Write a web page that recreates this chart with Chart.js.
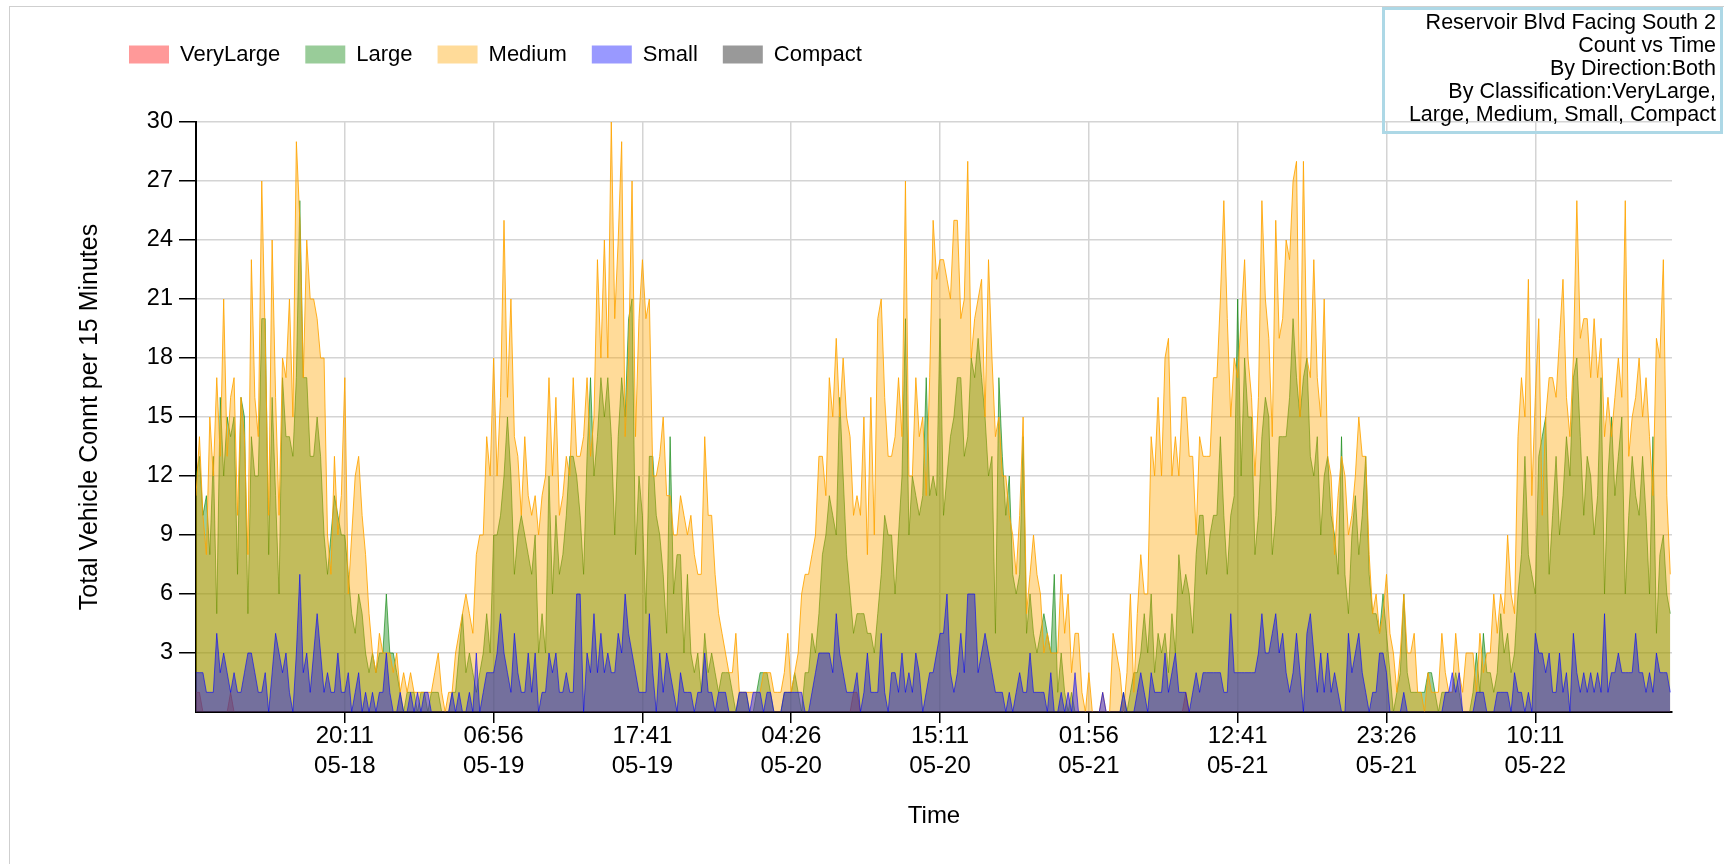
<!DOCTYPE html>
<html>
<head>
<meta charset="utf-8">
<title>Reservoir Blvd Facing South 2 - Count vs Time</title>
<script src="https://cdn.jsdelivr.net/npm/chart.js@4.4.1/dist/chart.umd.min.js"></script>
<style>
  html, body { margin: 0; padding: 0; background: #fff; }
  #wrap { position: relative; width: 1724px; height: 864px; overflow: hidden; }
  #frame { position: absolute; left: 9px; top: 6px; right: -2px; bottom: -2px;
           border-top: 1px solid #cfcfcf; border-left: 1px solid #cfcfcf; }
  #count-chart { position: absolute; left: 0; top: 0; }
</style>
</head>
<body>
<div id="wrap">
  <div id="frame"></div>
  <canvas id="count-chart" width="1724" height="864"></canvas>
</div>
<script>
// ----------------------------
// Data (15 minute bins, first bin 05-18 09:26)
// ----------------------------
const startStamp = ['05-18', '09:26'];
const binMinutes = 15;

const classNames = ['VeryLarge', 'Large', 'Medium', 'Small', 'Compact'];

const tickTimes = ['20:11', '06:56', '17:41', '04:26', '15:11', '01:56', '12:41', '23:26', '10:11'];
const tickDates = ['05-18', '05-19', '05-19', '05-20', '05-20', '05-21', '05-21', '05-21', '05-22'];

const titleLines = [
  'Reservoir Blvd Facing South 2',
  'Count vs Time',
  'By Direction:Both',
  'By Classification:VeryLarge,',
  'Large, Medium, Small, Compact'
];

const veryLarge = [
  1,1,0,0,0,0,0,0,0,0, 1,0,0,0,0,0,0,0,0,0, 0,0,0,0,0,0,0,0,0,0, 0,0,0,0,0,0,0,0,0,0, 0,0,0,
  0,0,0,0,0,0,0,0,0,0, 0,0,0,0,0,0,0,0,0,0, 0,0,0,0,0,0,0,0,0,0, 0,0,0,0,0,0,0,0,0,0, 0,0,0,
  0,0,0,0,0,0,0,0,0,0, 0,0,0,0,0,0,0,0,0,0, 0,0,0,0,0,0,0,0,0,0, 0,0,0,0,0,0,0,0,0,0, 0,0,0,
  0,0,0,0,0,0,0,0,0,0, 0,0,0,0,0,0,0,0,0,0, 0,0,0,0,0,0,0,0,0,0, 0,0,0,0,0,0,0,0,0,0, 0,0,0,
  0,0,0,0,0,0,0,0,0,0, 0,0,0,0,0,0,0,0,1,1, 0,0,0,0,0,0,0,0,0,0, 0,0,0,0,0,0,0,0,0,0, 0,0,0,
  0,0,0,0,0,0,0,0,0,0, 0,0,0,0,0,0,0,0,0,0, 0,0,0,0,0,0,0,0,0,0, 0,0,0,0,0,0,0,0,0,0, 0,0,0,
  0,0,0,0,0,0,0,0,0,0, 0,0,0,0,0,0,0,0,0,0, 0,0,0,0,0,0,0,0,1,0, 0,0,0,0,0,0,0,0,0,0, 0,0,0,
  0,0,0,0,0,0,0,0,0,0, 0,0,0,0,0,0,0,0,0,0, 0,0,0,0,0,0,0,0,0,0, 0,0,0,0,0,0,0,0,0,0, 0,0,0,
  0,0,0,0,0,0,0,0,0,0, 0,0,0,0,0,0,0,0,0,0, 0,0,0,0,0,0,0,0,0,0, 0,0,0,0,0,0,0,0,0,0, 0,0,0,
  0,0,0,0,0,0,0,0,0,0, 0,0,0,0,0,0,0,0,0,0, 0,0,0,0,0,0,0,0,0,0, 0,0,0,0,0,0,0,0,0,0
];

const large = [
  12,13,10,11,8,13,5,16,12,15, 14,15,7,16,15,5,14,12,12,20, 20,8,16,11,6,17,14,14,13,17, 26,17,17,13,13,15,13,9,7,9, 11,10,9,
  9,7,5,4,6,5,3,2,3,2, 3,3,6,3,3,2,1,0,1,1, 1,0,1,1,0,1,1,1,0,0, 0,1,1,3,5,2,3,2,1,2, 3,5,3,
  9,9,10,12,15,12,7,9,10,9, 8,7,9,3,5,3,12,6,10,7, 8,10,13,13,12,10,7,13,17,12, 14,17,15,17,14,9,14,17,15,20, 21,8,12,
  10,5,13,13,10,9,7,4,14,6, 8,8,3,7,3,2,3,1,4,2, 3,2,1,2,2,2,1,0,1,1, 1,0,0,1,2,2,2,1,0,0, 0,1,1,
  1,2,1,0,2,2,4,3,5,8, 9,11,10,9,16,12,8,6,4,5, 5,5,4,4,3,5,7,10,9,9, 6,9,12,20,9,12,11,10,11,17, 11,12,11,
  20,10,12,14,15,17,17,13,14,18, 17,19,17,15,12,13,4,17,13,10, 12,7,6,7,14,4,6,4,3,4, 5,4,3,7,1,3,1,0,1,0, 0,0,0,
  0,0,0,0,0,0,0,0,0,0, 1,0,1,2,2,3,5,3,6,2, 4,3,4,2,5,3,8,6,7,6, 4,8,10,10,7,9,10,10,14,10, 7,10,11,
  21,12,18,15,15,8,10,14,16,15, 8,10,14,14,14,16,20,17,15,17, 18,13,12,14,9,12,13,10,9,7, 14,7,5,9,11,8,10,13,7,5, 5,4,6,
  4,2,0,1,2,6,2,1,1,1, 1,1,2,2,1,0,1,1,1,1, 2,1,0,0,0,1,3,1,4,2, 2,1,2,5,3,4,2,3,6,8, 13,8,7,
  6,13,14,15,7,10,13,9,11,14, 12,17,18,14,10,13,12,9,11,17, 6,12,15,11,13,15,6,10,13,11, 10,13,10,6,14,4,8,9,6,5
];

const medium = [
  11,14,10,8,15,12,17,13,21,13, 16,17,10,16,14,8,23,16,14,27, 19,10,24,16,10,18,17,21,15,29, 25,17,24,21,21,20,18,18,9,7, 13,9,11,
  17,6,9,12,13,10,8,5,3,2, 4,3,3,3,2,3,1,2,1,2, 1,1,1,1,1,1,2,3,1,0, 1,1,3,4,5,6,5,4,8,9, 9,14,12,
  18,12,16,25,16,21,14,13,10,14, 11,10,11,9,11,12,17,12,16,10, 11,13,12,17,13,13,14,17,13,15, 23,18,24,18,30,20,24,29,14,18, 27,14,20,
  23,20,21,12,12,13,15,11,11,9, 9,11,10,9,10,8,7,7,14,10, 10,7,5,4,3,2,2,4,1,1, 1,1,1,1,1,2,2,2,1,1, 1,2,4,
  1,2,3,6,7,7,8,9,13,13, 11,17,15,19,15,18,15,14,10,11, 10,15,8,16,9,20,21,16,13,13, 14,17,14,27,12,12,17,14,15,11, 17,25,22,
  23,23,22,21,25,25,20,21,28,18, 20,21,22,15,23,18,14,15,12,12, 10,9,7,10,15,5,7,9,7,6, 3,4,3,3,3,7,4,6,2,4, 4,1,0,
  2,0,0,0,1,0,0,4,3,2, 0,2,6,1,5,8,6,6,14,12, 16,12,18,19,12,14,12,16,16,13, 13,9,14,13,13,13,17,17,21,26, 20,15,18,
  17,20,23,18,16,12,16,26,21,19, 14,25,19,20,24,23,27,28,15,28, 18,17,23,17,15,21,13,12,8,11, 13,12,9,10,12,15,13,13,8,5, 6,4,5,
  7,4,3,1,3,6,3,3,4,1, 1,0,2,1,1,1,4,2,1,1, 4,2,1,3,3,3,1,4,2,3, 3,6,4,6,5,9,6,5,14,17, 15,22,11,
  16,20,10,15,17,17,16,19,22,16, 14,18,26,19,20,20,17,20,17,19, 14,16,14,16,18,16,26,13,15,16, 18,15,17,14,11,19,18,23,11,7
];

const small = [
  2,2,2,1,1,1,4,2,3,2, 1,2,1,1,2,3,3,2,1,1, 2,0,2,4,3,2,3,1,0,3, 7,2,3,1,3,5,3,1,2,1, 1,3,1,
  1,2,0,1,2,0,1,0,1,0, 1,1,3,1,0,0,1,0,0,1, 0,1,0,1,1,0,0,0,0,0, 0,1,0,1,0,0,1,0,3,0, 1,2,2,
  2,3,5,3,2,1,4,2,1,1, 3,1,3,0,1,1,3,2,3,1, 1,2,1,1,6,6,0,3,2,5, 2,4,2,3,2,2,4,3,6,4, 3,2,1,
  1,1,5,2,0,3,1,3,2,1, 0,2,1,1,1,0,1,1,3,1, 1,0,1,1,1,0,0,0,1,1, 1,0,1,1,1,0,1,1,0,0, 0,1,1,
  1,1,1,1,0,0,1,2,3,3, 3,3,2,5,3,2,1,1,1,2, 0,1,3,1,1,1,4,1,0,2, 2,1,3,1,2,1,3,2,0,1, 2,2,3,
  4,4,6,2,1,2,4,2,6,6, 6,2,3,4,3,2,1,1,1,0, 1,0,1,2,1,1,3,1,1,1, 1,0,2,0,0,1,0,1,0,2, 0,0,0,
  0,0,0,0,1,0,0,0,0,0, 1,0,0,0,1,2,1,0,2,1, 1,1,3,1,2,3,1,1,1,0, 1,2,1,2,2,2,2,2,2,1, 1,5,2,
  2,2,2,2,2,2,3,5,3,3, 4,5,3,4,2,1,2,4,2,0, 4,5,3,1,3,1,3,1,2,1, 0,0,4,2,3,4,2,1,0,1, 1,3,3,
  2,0,0,0,0,1,0,0,0,0, 0,0,0,0,0,0,0,1,1,2, 1,2,0,0,0,0,1,1,1,0, 0,0,1,1,1,1,0,2,1,1, 0,1,0,
  4,3,3,2,3,1,1,3,1,2, 0,4,2,1,2,1,2,1,2,1, 5,1,2,2,3,2,2,2,2,4, 2,2,1,2,1,3,2,2,2,1
];

const compact = [
  0,0,0,0,0,0,0,0,0,0, 0,0,0,0,0,0,0,0,0,0, 0,0,0,0,0,0,0,0,0,0, 0,0,0,0,0,0,0,0,0,0, 0,0,0,
  0,0,0,0,0,0,0,0,0,0, 0,0,0,0,0,0,0,0,0,0, 0,0,0,0,0,0,0,0,0,0, 0,0,0,0,0,0,0,0,0,0, 0,0,0,
  0,0,0,0,0,0,0,0,0,0, 0,0,0,0,0,0,0,0,0,0, 0,0,0,0,0,0,0,0,0,0, 0,0,0,0,0,0,0,0,0,0, 0,0,0,
  0,0,0,0,0,0,0,0,0,0, 0,0,0,0,0,0,0,0,0,0, 0,0,0,0,0,0,0,0,0,0, 0,0,0,0,0,0,0,0,0,0, 0,0,0,
  0,0,0,0,0,0,0,0,0,0, 0,0,0,0,0,0,0,0,0,0, 0,0,0,0,0,0,0,0,0,0, 0,0,0,0,0,0,0,0,0,0, 0,0,0,
  0,0,0,0,0,0,0,0,0,0, 0,0,0,0,0,0,0,0,0,0, 0,0,0,0,0,0,0,0,0,0, 0,0,0,0,0,0,0,0,0,0, 0,0,0,
  0,0,0,0,0,0,0,0,0,0, 0,0,0,0,0,0,0,0,0,0, 0,0,0,0,0,0,0,0,0,0, 0,0,0,0,0,0,0,0,0,0, 0,0,0,
  0,0,0,0,0,0,0,0,0,0, 0,0,0,0,0,0,0,0,0,0, 0,0,0,0,0,0,0,0,0,0, 0,0,0,0,0,0,0,0,0,0, 0,0,0,
  0,0,0,0,0,0,0,0,0,0, 0,0,0,0,0,0,0,0,0,0, 0,0,0,0,0,0,0,0,0,0, 0,0,0,0,0,0,0,0,0,0, 0,0,0,
  0,0,0,0,0,0,0,0,0,0, 0,0,0,0,0,0,0,0,0,0, 0,0,0,0,0,0,0,0,0,0, 0,0,0,0,0,0,0,0,0,0
];

// ----------------------------
// Styles
// ----------------------------
const FONT = '"Liberation Sans", Arial, sans-serif';
const SERIES_STYLE = {
  VeryLarge: { line: 'rgba(255,0,0,0.6)',   fill: 'rgba(255,0,0,0.4)',   order: 5 },
  Large:     { line: 'rgba(0,128,0,0.6)',   fill: 'rgba(0,128,0,0.4)',   order: 4 },
  Medium:    { line: 'rgba(255,165,0,0.85)', fill: 'rgba(255,165,0,0.4)', order: 3 },
  Small:     { line: 'rgba(0,0,255,0.6)',   fill: 'rgba(0,0,255,0.4)',   order: 2 },
  Compact:   { line: 'rgba(0,0,0,0.6)',     fill: 'rgba(0,0,0,0.4)',     order: 1 }
};
const GRID_COLOR = '#d4d4d4';

Chart.defaults.font.family = FONT;
Chart.defaults.color = '#000';

// minutes since start of month, used to place the time ticks on the bin axis
const toMinutes = (date, time) => {
  const day = Number(date.split('-')[1]);
  const [h, m] = time.split(':').map(Number);
  return (day * 24 + h) * 60 + m;
};
const startMinutes = toMinutes(startStamp[0], startStamp[1]);
const tickSlots = tickTimes.map((t, i) => (toMinutes(tickDates[i], t) - startMinutes) / binMinutes);

const seriesByName = { VeryLarge: veryLarge, Large: large, Medium: medium, Small: small, Compact: compact };
const binIndex = medium.map((_, i) => i);

// Title box in the upper right corner
const titleBoxPlugin = {
  id: 'titleBox',
  afterDraw(chart) {
    const { ctx } = chart;
    ctx.save();
    ctx.strokeStyle = '#add8e6';
    ctx.lineWidth = 3;
    ctx.strokeRect(1383.5, 8.5, 338, 124);
    ctx.font = '21.5px ' + FONT;
    ctx.fillStyle = '#000';
    ctx.textAlign = 'right';
    ctx.textBaseline = 'middle';
    titleLines.forEach((line, i) => ctx.fillText(line, 1716, 23 + i * 23));
    ctx.restore();
  }
};

const chartConfig = {
  type: 'line',
  data: {
    labels: binIndex,
    datasets: classNames.map((name) => ({
      label: name,
      data: seriesByName[name],
      borderColor: SERIES_STYLE[name].line,
      backgroundColor: SERIES_STYLE[name].fill,
      borderWidth: 1,
      fill: 'origin',
      pointRadius: 0,
      tension: 0,
      order: SERIES_STYLE[name].order
    }))
  },
  options: {
    responsive: false,
    animation: false,
    events: [],
    layout: { padding: { top: 18.5, left: 104, right: 52, bottom: 0 } },
    plugins: {
      tooltip: { enabled: false },
      title: {
        // empty spacer between the legend and the plot
        display: true,
        text: '',
        weight: 500,
        font: { size: 1, lineHeight: 1 },
        padding: { top: 0, bottom: 45.5 }
      },
      legend: {
        position: 'top',
        align: 'start',
        labels: {
          boxWidth: 40,
          boxHeight: 18,
          padding: 25,
          color: '#000',
          font: { size: 22 },
          sort: (a, b) => a.datasetIndex - b.datasetIndex,
          generateLabels: (chart) =>
            Chart.defaults.plugins.legend.labels.generateLabels(chart)
              .map((item) => ({ ...item, lineWidth: 0 }))
        }
      }
    },
    scales: {
      x: {
        type: 'linear',
        min: 0,
        max: binIndex.length - 0.5,
        afterBuildTicks: (scale) => { scale.ticks = tickSlots.map((value) => ({ value })); },
        afterFit: (scale) => { scale.height = 152; },
        ticks: {
          autoSkip: false,
          maxRotation: 0,
          padding: -2,
          color: '#000',
          font: { size: 24, lineHeight: 1.25 },
          callback: (value, index) => [tickTimes[index], tickDates[index]]
        },
        grid: { color: GRID_COLOR, lineWidth: 1.5, tickColor: '#000', tickLength: 11, tickWidth: 1.5 },
        border: { color: '#000', width: 2 },
        title: { display: true, text: 'Time', color: '#000', font: { size: 24 }, padding: { top: 0, bottom: 33 } }
      },
      y: {
        min: 0,
        max: 30,
        afterBuildTicks: (scale) => { scale.ticks = scale.ticks.filter((t) => t.value !== 0); },
        afterFit: (scale) => { scale.width = 92; },
        ticks: { stepSize: 3, padding: 6, color: '#000', font: { size: 23.5 } },
        grid: { color: GRID_COLOR, lineWidth: 1.5, tickColor: '#000', tickLength: 17, tickWidth: 1.5 },
        border: { color: '#000', width: 2 },
        title: {
          display: true,
          text: 'Total Vehicle Connt per 15 Minutes',
          color: '#000',
          font: { size: 25 },
          padding: { top: -29, bottom: 0 }
        }
      }
    }
  },
  plugins: [titleBoxPlugin]
};

new Chart(document.getElementById('count-chart').getContext('2d'), chartConfig);
</script>
</body>
</html>
